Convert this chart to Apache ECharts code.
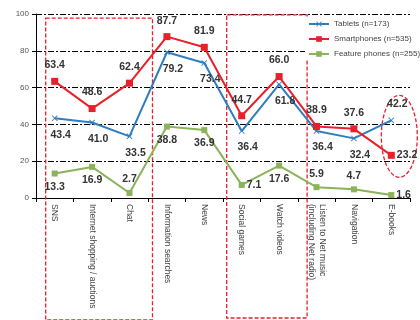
<!DOCTYPE html>
<html>
<head>
<meta charset="utf-8">
<script src="https://cdn.jsdelivr.net/npm/echarts@6/dist/echarts.min.js"></script>
<style>
  html, body { margin: 0; padding: 0; background: #fff; }
  #chart { width: 420px; height: 320px; }
</style>
</head>
<body>
<div id="chart"></div>
<script>
var categories = ['SNS', 'Internet shopping / auctions', 'Chat', 'Information searches', 'News',
    'Social games', 'Watch videos', 'Listen to Net music\n(including Net radio)', 'Navigation', 'E-books'];
var tablets = [43.4, 41.0, 33.5, 79.2, 73.4, 36.4, 61.8, 36.4, 32.4, 42.2];
var smartphones = [63.4, 48.6, 62.4, 87.7, 81.9, 44.7, 66.0, 38.9, 37.6, 23.2];
var featurePhones = [13.3, 16.9, 2.7, 38.8, 36.9, 7.1, 17.6, 5.9, 4.7, 1.6];
var yTicks = [0, 20, 40, 60, 80, 100];

var labelFont = {
    fontFamily: 'Liberation Sans', fontWeight: 'bold', fontSize: 10.5, color: '#333',
    formatter: function (p) { return p.value.toFixed(1); }
};

// where each value label sits relative to its point
var tabletPos = ['bottom', 'bottom', 'bottom', 'bottom', 'bottom', 'bottom', 'bottom', 'bottom', 'bottom', 'top'];
var smartPos = ['top', 'top', 'top', 'top', 'top', 'top', 'top', 'top', 'top', 'right'];
var featurePos = ['bottom', 'bottom', 'top', 'bottom', 'bottom', 'right', 'bottom', 'top', 'top', 'right'];

function withLabels(values, pos) {
    return values.map(function (v, i) {
        var lab = { position: pos[i] };
        if (pos[i] === 'right') lab.distance = 2;
        return { value: v, label: lab };
    });
}

var xShape = 'path://M0,1L1,0L5,4L9,0L10,1L6,5L10,9L9,10L5,6L1,10L0,9L4,5Z';

var myChart = echarts.init(document.getElementById('chart'));

var option = {
    animation: false,
    textStyle: { fontFamily: 'Liberation Sans' },
    grid: { left: 36, right: 10, top: 14, bottom: 122 },
    legend: {
        orient: 'vertical',
        left: 305,
        top: 18,
        itemWidth: 20,
        itemHeight: 7,
        itemGap: 7,
        padding: [2, 0, 2, 3],
        backgroundColor: '#fff',
        textStyle: { fontSize: 8, color: '#444', fontFamily: 'Liberation Sans' },
        data: ['Tablets (n=173)', 'Smartphones (n=535)', 'Feature phones (n=255)']
    },
    xAxis: {
        type: 'category',
        data: categories,
        boundaryGap: true,
        axisLine: { lineStyle: { color: '#000', width: 1 } },
        axisTick: { show: true, length: 4, lineStyle: { color: '#000' } },
        axisLabel: {
            rotate: -90,
            interval: 0,
            fontSize: 8.5,
            color: '#444',
            margin: 6,
            lineHeight: 11
        }
    },
    yAxis: {
        type: 'value',
        min: yTicks[0],
        max: yTicks[yTicks.length - 1],
        interval: 20,
        axisLine: { show: true, lineStyle: { color: '#000', width: 1 } },
        axisTick: { show: true, length: 4, lineStyle: { color: '#000' } },
        axisLabel: { fontSize: 8, color: '#555', margin: 7 },
        splitLine: { lineStyle: { color: '#000', width: 1, type: [6, 2, 2, 2] } }
    },
    series: [
        {
            name: 'Tablets (n=173)',
            type: 'line',
            data: withLabels(tablets, tabletPos),
            symbol: xShape,
            symbolSize: 6,
            color: '#2e7ebf',
            lineStyle: { width: 2, color: '#2e7ebf' },
            itemStyle: { color: '#2e7ebf' },
            label: Object.assign({ show: true, distance: 8, offset: [6, 0] }, labelFont),
            z: 3
        },
        {
            name: 'Smartphones (n=535)',
            type: 'line',
            data: withLabels(smartphones, smartPos),
            symbol: 'rect',
            symbolSize: 7,
            color: '#e8202a',
            lineStyle: { width: 2, color: '#e8202a' },
            itemStyle: { color: '#e8202a' },
            label: Object.assign({ show: true, distance: 7 }, labelFont),
            z: 4
        },
        {
            name: 'Feature phones (n=255)',
            type: 'line',
            data: withLabels(featurePhones, featurePos),
            symbol: 'rect',
            symbolSize: 6,
            color: '#8ab35a',
            lineStyle: { width: 2, color: '#8ab35a' },
            itemStyle: { color: '#8ab35a' },
            label: Object.assign({ show: true, distance: 5 }, labelFont),
            z: 2
        }
    ]
};

myChart.setOption(option);

// dashed red call-outs around the highlighted categories
function px(i, v) { return myChart.convertToPixel({ xAxisIndex: 0, yAxisIndex: 0 }, [i, v]); }
var dash = { fill: 'none', stroke: '#e8202a', lineWidth: 1.3, lineDash: [4, 2] };
var a0 = px(0, 97.8), a2 = px(2, 0);
var b5 = px(5, 99.5), b6 = px(6, 0);
var e9 = px(9, 33.5);
myChart.setOption({
    graphic: [
        { type: 'rect', shape: { x: a0[0] - 9, y: a0[1], width: a2[0] + 23 - (a0[0] - 9), height: 320 - a0[1] }, style: dash, z: 1 },
        { type: 'rect', shape: { x: b5[0] - 15, y: b5[1], width: b6[0] + 28 - (b5[0] - 15), height: 318 - b5[1] }, style: dash, z: 1 },
        { type: 'ellipse', shape: { cx: e9[0] + 8, cy: e9[1], rx: 18, ry: 41 }, style: dash, z: 1 }
    ]
});
</script>
</body>
</html>
